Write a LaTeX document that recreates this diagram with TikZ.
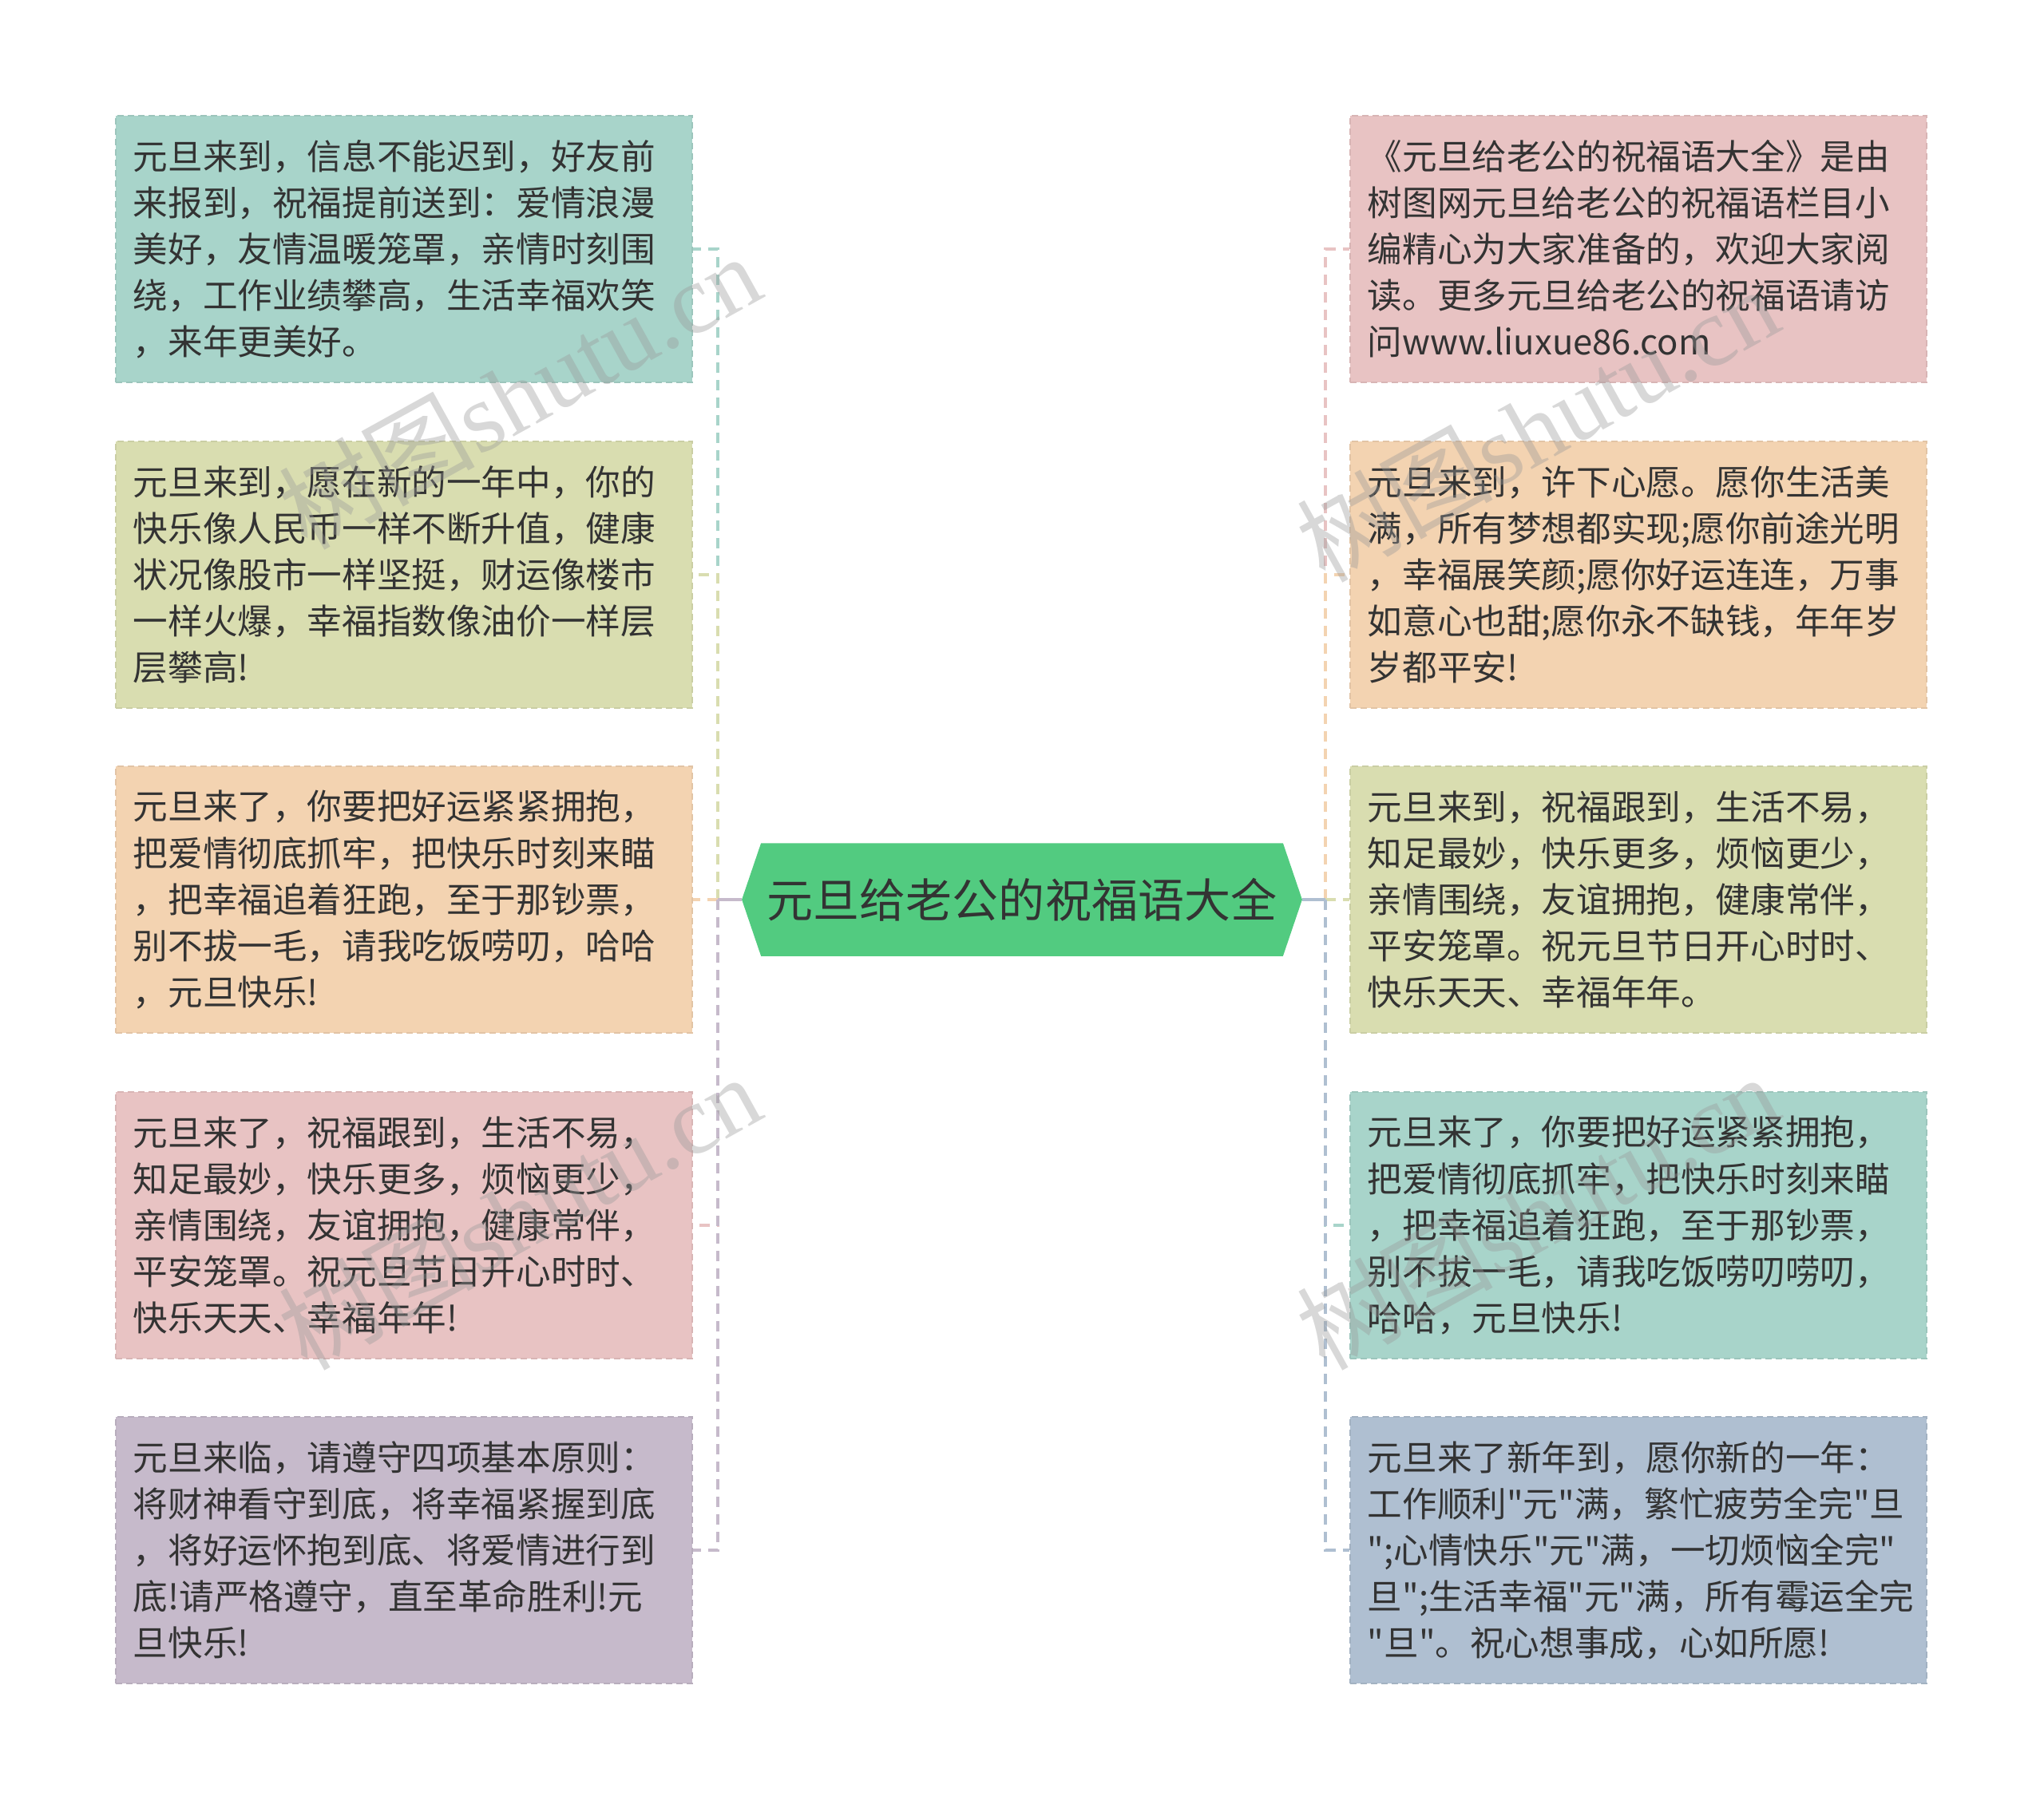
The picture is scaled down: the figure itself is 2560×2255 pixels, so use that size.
\documentclass[tikz,border=0pt]{standalone}
\usepackage{fontspec}
\setmainfont{Noto Sans CJK SC}[Ligatures=TeXOff]
\newfontfamily\wmfont{Liberation Serif}
\usetikzlibrary{backgrounds}
\definecolor{tealBox}{RGB}{168,212,202}
\definecolor{oliveBox}{RGB}{217,221,176}
\definecolor{peachBox}{RGB}{243,211,177}
\definecolor{pinkBox}{RGB}{232,195,195}
\definecolor{lilacBox}{RGB}{198,186,203}
\definecolor{slateBox}{RGB}{175,191,209}
\definecolor{rootGreen}{RGB}{82,203,128}
\definecolor{inkGrey}{RGB}{51,51,51}
\tikzset{
  noteBox/.style={fill=#1,draw=#1!93!black,dash pattern=on 0.08cm off 0.05cm,line width=0.02cm,
    minimum width=7.22cm,minimum height=3.34cm,inner xsep=0.22cm,inner ysep=0pt,
    text width=6.78cm,align=left,text=inkGrey,font=\fontsize{12.4pt}{16.5pt}\selectfont},
  rootNode/.style={minimum width=7cm,minimum height=1.4cm,inner sep=0pt,text=inkGrey,
    font=\fontsize{16.5pt}{20pt}\selectfont},
  hubLink/.style={draw=#1,line width=0.04cm},
  branchLink/.style={draw=#1,line width=0.04cm,dash pattern=on 0.13cm off 0.09cm},
  waterMark/.style={rotate=29,text=black!40,text opacity=0.38,inner sep=0pt,
    font=\wmfont\fontsize{35pt}{35pt}\selectfont}
}
\begin{document}
\begin{tikzpicture}[x=0.01cm,y=-0.01cm]
  \useasboundingbox (0,0) rectangle (2560,2255);

  \node[rootNode] (root) at (1280,1127) {元旦给老公的祝福语大全};
  \begin{scope}[on background layer]
    \fill[rootGreen] (root.west) -- ([xshift=0.24cm]root.north west) -- ([xshift=-0.24cm]root.north east)
      -- (root.east) -- ([xshift=-0.24cm]root.south east) -- ([xshift=0.24cm]root.south west) -- cycle;
  \end{scope}
  \coordinate (lHub) at (899,1127);
  \coordinate (rHub) at (1660,1127);

  \node[noteBox=tealBox] (L1) at (506,312) {元旦来到，信息不能迟到，好友前\\来报到，祝福提前送到：爱情浪漫\\美好，友情温暖笼罩，亲情时刻围\\绕，工作业绩攀高，生活幸福欢笑\\，来年更美好。};
  \node[noteBox=oliveBox] (L2) at (506,720) {元旦来到，愿在新的一年中，你的\\快乐像人民币一样不断升值，健康\\状况像股市一样坚挺，财运像楼市\\一样火爆，幸福指数像油价一样层\\层攀高!};
  \node[noteBox=peachBox] (L3) at (506,1127) {元旦来了，你要把好运紧紧拥抱，\\把爱情彻底抓牢，把快乐时刻来瞄\\，把幸福追着狂跑，至于那钞票，\\别不拔一毛，请我吃饭唠叨，哈哈\\，元旦快乐!};
  \node[noteBox=pinkBox] (L4) at (506,1535) {元旦来了，祝福跟到，生活不易，\\知足最妙，快乐更多，烦恼更少，\\亲情围绕，友谊拥抱，健康常伴，\\平安笼罩。祝元旦节日开心时时、\\快乐天天、幸福年年!};
  \node[noteBox=lilacBox] (L5) at (506,1942) {元旦来临，请遵守四项基本原则：\\将财神看守到底，将幸福紧握到底\\，将好运怀抱到底、将爱情进行到\\底!请严格遵守，直至革命胜利!元\\旦快乐!};

  \node[noteBox=pinkBox] (R1) at (2052,312) {《元旦给老公的祝福语大全》是由\\树图网元旦给老公的祝福语栏目小\\编精心为大家准备的，欢迎大家阅\\读。更多元旦给老公的祝福语请访\\问www.liuxue86.com};
  \node[noteBox=peachBox] (R2) at (2052,720) {元旦来到，许下心愿。愿你生活美\\满，所有梦想都实现;愿你前途光明\\，幸福展笑颜;愿你好运连连，万事\\如意心也甜;愿你永不缺钱，年年岁\\岁都平安!};
  \node[noteBox=oliveBox] (R3) at (2052,1127) {元旦来到，祝福跟到，生活不易，\\知足最妙，快乐更多，烦恼更少，\\亲情围绕，友谊拥抱，健康常伴，\\平安笼罩。祝元旦节日开心时时、\\快乐天天、幸福年年。};
  \node[noteBox=tealBox] (R4) at (2052,1535) {元旦来了，你要把好运紧紧拥抱，\\把爱情彻底抓牢，把快乐时刻来瞄\\，把幸福追着狂跑，至于那钞票，\\别不拔一毛，请我吃饭唠叨唠叨，\\哈哈，元旦快乐!};
  \node[noteBox=slateBox] (R5) at (2052,1942) {元旦来了新年到，愿你新的一年：\\工作顺利"元"满，繁忙疲劳全完"旦\\";心情快乐"元"满，一切烦恼全完"\\旦";生活幸福"元"满，所有霉运全完\\"旦"。祝心想事成，心如所愿!};

  \draw[hubLink=tealBox] (root.west) -- (lHub);
  \draw[branchLink=tealBox] (lHub) |- (L1.east);
  \draw[hubLink=oliveBox] (root.west) -- (lHub);
  \draw[branchLink=oliveBox] (lHub) |- (L2.east);
  \draw[hubLink=peachBox] (root.west) -- (lHub);
  \draw[branchLink=peachBox] (lHub) -- (L3.east);
  \draw[hubLink=pinkBox] (root.west) -- (lHub);
  \draw[branchLink=pinkBox] (lHub) |- (L4.east);
  \draw[hubLink=lilacBox] (root.west) -- (lHub);
  \draw[branchLink=lilacBox] (lHub) |- (L5.east);

  \draw[hubLink=pinkBox] (root.east) -- (rHub);
  \draw[branchLink=pinkBox] (rHub) |- (R1.west);
  \draw[hubLink=peachBox] (root.east) -- (rHub);
  \draw[branchLink=peachBox] (rHub) |- (R2.west);
  \draw[hubLink=oliveBox] (root.east) -- (rHub);
  \draw[branchLink=oliveBox] (rHub) -- (R3.west);
  \draw[hubLink=tealBox] (root.east) -- (rHub);
  \draw[branchLink=tealBox] (rHub) |- (R4.west);
  \draw[hubLink=slateBox] (root.east) -- (rHub);
  \draw[branchLink=slateBox] (rHub) |- (R5.west);

  \node[waterMark] (wm1) at (650,490) {{\rmfamily 树图}shutu.cn};
  \node[waterMark] (wm2) at (650,1518) {{\rmfamily 树图}shutu.cn};
  \node[waterMark] (wm3) at (1925,531) {{\rmfamily 树图}shutu.cn};
  \node[waterMark] (wm4) at (1925,1518) {{\rmfamily 树图}shutu.cn};
\end{tikzpicture}
\end{document}
